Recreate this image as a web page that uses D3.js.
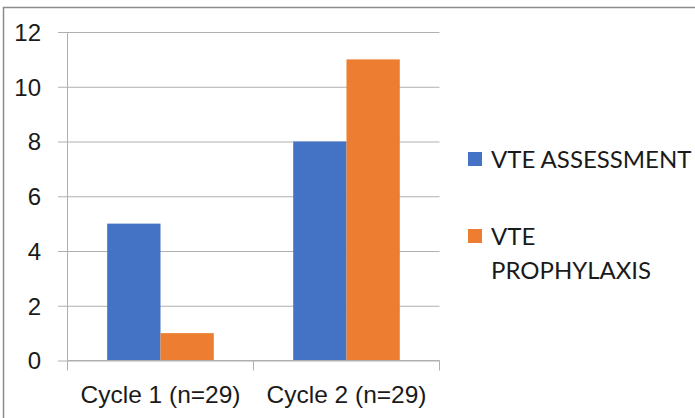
<!DOCTYPE html>
<html><head><meta charset="utf-8">
<script src="https://cdn.jsdelivr.net/npm/d3@7"></script>
<style>
body{margin:0;background:#fff;}
svg{display:block;font-family:Lato, "Liberation Sans", sans-serif;}
</style></head>
<body>
<svg id="c" width="695" height="418"></svg>
<script>
const categories = ["Cycle 1 (n=29)", "Cycle 2 (n=29)"];
const seriesNames = ["VTE ASSESSMENT", "VTE PROPHYLAXIS"];
const assessment = [5, 8];
const prophylaxis = [1, 11];
const yTicks = [0, 2, 4, 6, 8, 10, 12];
const colors = ["#4472C4", "#ED7D31"];

const svg = d3.select("#c");
const m = {left: 67.5, right: 439.5, top: 32, bottom: 360.5};

// outer border (left + top)
svg.append("path").attr("d", "M3.5,418 L3.5,7.5 L695,7.5")
  .attr("fill", "none").attr("stroke", "#8c8c8c").attr("stroke-width", 1.5);

const y = d3.scaleLinear().domain([0, 12]).range([m.bottom, m.top]);
const x0 = d3.scaleBand().domain(categories).range([m.left, m.right]).paddingInner(0).paddingOuter(0);
const x1 = d3.scaleBand().domain(seriesNames).range([0, x0.bandwidth()]).paddingInner(0).paddingOuter(0.745);

// gridlines + ticks
const yAxis = d3.axisLeft(y).tickValues(yTicks).tickSize(-(m.right - m.left)).tickFormat(d3.format("d")).tickPadding(26.5);
const gy = svg.append("g").attr("transform", `translate(${m.left},0)`).call(yAxis);
gy.select(".domain").remove();
gy.selectAll(".tick line").attr("stroke", "#b0b0b0").attr("x1", -9.5).attr("x2", m.right - m.left);
gy.selectAll(".tick text").attr("fill", "#1a1a1a").attr("font-size", 24).attr("dy", "0.35em");

const data = categories.map((c, i) => ({cat: c, vals: [assessment[i], prophylaxis[i]]}));
const groups = svg.append("g").selectAll("g").data(data).join("g")
  .attr("transform", d => `translate(${x0(d.cat)},0)`);
groups.selectAll("rect").data(d => d.vals.map((v, j) => ({name: seriesNames[j], v, j})))
  .join("rect")
  .attr("x", d => x1(d.name))
  .attr("width", x1.bandwidth())
  .attr("y", d => y(d.v))
  .attr("height", d => y(0) - y(d.v))
  .attr("fill", d => colors[d.j]);

// y axis line
svg.append("line").attr("x1", m.left).attr("x2", m.left).attr("y1", m.top).attr("y2", m.bottom)
  .attr("stroke", "#b0b0b0");

// x axis
const xAxis = d3.axisBottom(x0).tickSize(0).tickPadding(25);
const gx = svg.append("g").attr("transform", `translate(0,${m.bottom})`).call(xAxis);
gx.select(".domain").remove();
gx.selectAll(".tick text").attr("fill", "#1a1a1a").attr("font-size", 24.5);
svg.append("line").attr("x1", m.left).attr("x2", m.right).attr("y1", m.bottom).attr("y2", m.bottom).attr("stroke", "#b0b0b0");
const bounds = [m.left, ...categories.map(c => x0(c) + x0.bandwidth())];
svg.append("g").selectAll("line").data(bounds).join("line")
  .attr("x1", d => d).attr("x2", d => d).attr("y1", m.bottom).attr("y2", m.bottom + 10)
  .attr("stroke", "#b0b0b0");

// legend
const legend = [
  {lines: ["VTE ASSESSMENT"], top: 152},
  {lines: ["VTE", "PROPHYLAXIS"], top: 229}
];
legend.forEach((l, i) => {
  svg.append("rect").attr("x", 468).attr("y", l.top).attr("width", 14).attr("height", 14).attr("fill", colors[i]);
  const t = svg.append("text").attr("x", 491).attr("y", l.top + 15.5).attr("font-size", 24).attr("fill", "#1a1a1a");
  l.lines.forEach((s, k) => t.append("tspan").attr("x", 491).attr("dy", k ? 34 : 0).text(s));
});
</script>
</body></html>
